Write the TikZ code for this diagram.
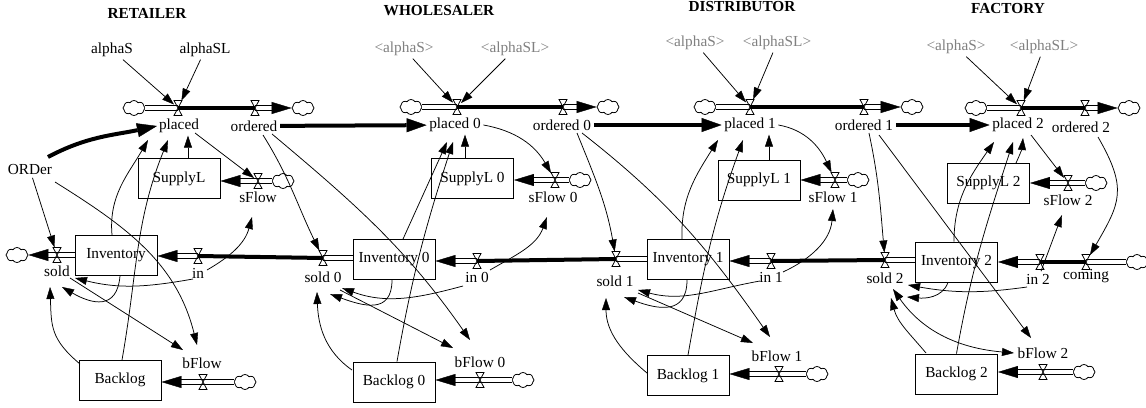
\documentclass[tikz,border=0pt]{standalone}
\usepackage{fontspec}
\setmainfont{Liberation Serif}
\usetikzlibrary{arrows.meta,shapes.symbols}
\definecolor{ghostgray}{RGB}{128,128,128}
% hourglass valve drawn inside a named valve node
\newcommand{\valveglyph}[1]{\draw[line width=0.8pt] (#1.north west) -- (#1.north east) -- (#1.south west) -- (#1.south east) -- cycle;}
% double pipe ending in a filled head
\newcommand{\flowin}[2]{\draw[pipe, shorten >=14pt] #1 -- #2; \draw[pipehead] #1 -- #2;}
\begin{document}
\begin{tikzpicture}[x=1pt, y=1pt,
  font=\fontsize{15.3pt}{18pt}\selectfont,
  heading/.style={font=\fontsize{15.3pt}{18pt}\selectfont\bfseries},
  var/.style={inner sep=2.5pt},
  ghost/.style={var, text=ghostgray},
  stock/.style={draw, line width=0.9pt, minimum width=82pt, minimum height=40pt, inner sep=0pt},
  valve/.style={minimum width=8pt, minimum height=15pt, inner sep=0pt, outer sep=0pt},
  cloudy/.style={cloud, draw, fill=white, cloud puffs=8, cloud puff arc=115, aspect=1.5,
                 minimum width=22pt, minimum height=15pt, inner sep=0pt, line width=0.8pt},
  pipe/.style={double distance=3.4pt, line width=0.9pt},
  pipehead/.style={white, line width=0.2pt, -{Triangle[color=black, fill=black, length=20pt, width=12pt, line width=0.4pt]}},
  belt/.style={line width=4pt},
  link/.style={line width=0.75pt, -{Triangle[length=12pt, width=8pt, line width=0.4pt]}},
  bilink/.style={line width=0.75pt, {Triangle[length=12pt, width=8pt, line width=0.4pt]}-{Triangle[length=12pt, width=8pt, line width=0.4pt]}},
  biglink/.style={line width=4pt, -{Triangle[length=20pt, width=14pt, line width=0.4pt]}}
]
\useasboundingbox (0,0) rectangle (1146,-407);

% ================= RETAILER =================
\node[heading] (tR) at (147,-13) {RETAILER};
\node[var] (aS) at (112,-50) {alphaS};
\node[var] (aSL) at (205,-50) {alphaSL};
\node[cloudy] (cPl) at (134,-108) {};
\node[valve] (vPl) at (178,-108) {};
\node[var] (lPl) at (179,-126) {placed};
\node[valve] (vOr) at (255,-108) {};
\node[var] (lOr) at (254,-126) {ordered};
\node[cloudy] (cOr) at (303,-108) {};
\node[var] (ord) at (30,-170) {ORDer};
\node[stock] (sup) at (179,-178.5) {SupplyL};
\node[valve] (vSf) at (258,-181) {};
\node[var] (lSf) at (258,-197) {sFlow};
\node[cloudy] (cSf) at (283,-181) {};
\node[stock] (inv) at (116,-255) {Inventory};
\node[valve] (vSo) at (57,-255) {};
\node[var] (lSo) at (57,-271) {sold};
\node[cloudy] (cSo) at (17,-255) {};
\node[valve] (vIn) at (198,-256) {};
\node[var] (lIn) at (198,-273) {in};
\node[stock] (bl) at (120,-380) {Backlog};
\node[valve] (vBf) at (203,-382) {};
\node[var] (lBf) at (202,-363) {bFlow};
\node[cloudy] (cBf) at (245,-382) {};

% ================= WHOLESALER =================
\node[heading] (tW) at (439,-11) {WHOLESALER};
\node[ghost] (aS0) at (404,-49) {<alphaS>};
\node[ghost] (aSL0) at (515,-49) {<alphaSL>};
\node[cloudy] (cPl0) at (411,-107) {};
\node[valve] (vPl0) at (457,-107) {};
\node[var] (lPl0) at (455,-125) {placed 0};
\node[valve] (vOr0) at (563,-107) {};
\node[var] (lOr0) at (562,-125) {ordered 0};
\node[cloudy] (cOr0) at (608,-107) {};
\node[stock] (sup0) at (472.5,-178.5) {SupplyL 0};
\node[valve] (vSf0) at (555,-180) {};
\node[var] (lSf0) at (553,-197) {sFlow 0};
\node[cloudy] (cSf0) at (580,-180) {};
\node[stock] (inv0) at (394,-259.5) {Inventory 0};
\node[valve] (vSo0) at (323,-258) {};
\node[var] (lSo0) at (323,-277) {sold 0};
\node[valve] (vIn0) at (477,-261) {};
\node[var] (lIn0) at (477,-277) {in 0};
\node[stock] (bl0) at (394,-382) {Backlog 0};
\node[valve] (vBf0) at (480,-380) {};
\node[var] (lBf0) at (480,-362) {bFlow 0};
\node[cloudy] (cBf0) at (523,-380) {};

% ================= DISTRIBUTOR =================
\node[heading] (tD) at (742,-7) {DISTRIBUTOR};
\node[ghost] (aS1) at (695,-43) {<alphaS>};
\node[ghost] (aSL1) at (777,-43) {<alphaSL>};
\node[cloudy] (cPl1) at (705,-107) {};
\node[valve] (vPl1) at (750,-107) {};
\node[var] (lPl1) at (750,-125) {placed 1};
\node[valve] (vOr1) at (864,-107) {};
\node[var] (lOr1) at (864,-125) {ordered 1};
\node[cloudy] (cOr1) at (912,-107) {};
\node[stock] (sup1) at (759,-180) {SupplyL 1};
\node[valve] (vSf1) at (835,-180) {};
\node[var] (lSf1) at (833,-197) {sFlow 1};
\node[cloudy] (cSf1) at (858,-180) {};
\node[stock] (inv1) at (688,-259.5) {Inventory 1};
\node[valve] (vSo1) at (616,-259) {};
\node[var] (lSo1) at (615,-281) {sold 1};
\node[valve] (vIn1) at (771,-261) {};
\node[var] (lIn1) at (771,-277) {in 1};
\node[stock] (bl1) at (688,-375.5) {Backlog 1};
\node[valve] (vBf1) at (779,-374) {};
\node[var] (lBf1) at (777,-356) {bFlow 1};
\node[cloudy] (cBf1) at (817,-374) {};

% ================= FACTORY =================
\node[heading] (tF) at (1008,-9) {FACTORY};
\node[ghost] (aS2) at (956,-47) {<alphaS>};
\node[ghost] (aSL2) at (1044,-47) {<alphaSL>};
\node[cloudy] (cPl2) at (976,-108) {};
\node[valve] (vPl2) at (1021,-108) {};
\node[var] (lPl2) at (1018,-125) {placed 2};
\node[valve] (vOr2) at (1085,-108) {};
\node[var] (lOr2) at (1081,-127) {ordered 2};
\node[cloudy] (cOr2) at (1129,-108) {};
\node[stock] (sup2) at (988.5,-183) {SupplyL 2};
\node[valve] (vSf2) at (1068,-183) {};
\node[var] (lSf2) at (1068,-200) {sFlow 2};
\node[cloudy] (cSf2) at (1096,-183) {};
\node[stock] (inv2) at (956.5,-262) {Inventory 2};
\node[valve] (vSo2) at (885,-260) {};
\node[var] (lSo2) at (885,-278) {sold 2};
\node[valve] (vIn2) at (1040,-262) {};
\node[var] (lIn2) at (1038,-279) {in 2};
\node[valve] (vCo) at (1086,-262) {};
\node[var] (lCo) at (1086,-276) {coming};
\node[cloudy] (cCo) at (1137,-262) {};
\node[stock] (bl2) at (956.5,-374) {Backlog 2};
\node[valve] (vBf2) at (1043,-372) {};
\node[var] (lBf2) at (1043,-353) {bFlow 2};
\node[cloudy] (cBf2) at (1084,-372) {};

% ---------- pipes and conveyor lines ----------
% order chains along the top
\draw[pipe] (cPl) -- (vPl.center);
\draw[belt] (vPl.center) -- (vOr.center);
\flowin{(vOr.center)}{(cOr)}
\draw[pipe] (cPl0) -- (vPl0.center);
\draw[belt] (vPl0.center) -- (vOr0.center);
\flowin{(vOr0.center)}{(cOr0)}
\draw[pipe] (cPl1) -- (vPl1.center);
\draw[belt] (vPl1.center) -- (vOr1.center);
\flowin{(vOr1.center)}{(cOr1)}
\draw[pipe] (cPl2) -- (vPl2.center);
\draw[belt] (vPl2.center) -- (vOr2.center);
\flowin{(vOr2.center)}{(cOr2)}

% supply lines
\draw[pipe] (cSf) -- (vSf.center);
\flowin{(vSf.center)}{(vSf.center -| sup.east)}
\draw[pipe] (cSf0) -- (vSf0.center);
\flowin{(vSf0.center)}{(vSf0.center -| sup0.east)}
\draw[pipe] (cSf1) -- (vSf1.center);
\flowin{(vSf1.center)}{(vSf1.center -| sup1.east)}
\draw[pipe] (cSf2) -- (vSf2.center);
\flowin{(vSf2.center)}{(vSf2.center -| sup2.east)}

% goods chain along the middle
\draw[pipe] (vSo.center) -- (vSo.center -| inv.west);
\flowin{(vSo.center)}{(cSo)}
\flowin{(vIn.center)}{(vIn.center -| inv.east)}
\draw[belt] (vIn.center) -- (vSo0.center);
\draw[pipe] (vSo0.center) -- (vSo0.center -| inv0.west);
\flowin{(vIn0.center)}{(vIn0.center -| inv0.east)}
\draw[belt] (vIn0.center) -- (vSo1.center);
\draw[pipe] (vSo1.center) -- (vSo1.center -| inv1.west);
\flowin{(vIn1.center)}{(vIn1.center -| inv1.east)}
\draw[belt] (vIn1.center) -- (vSo2.center);
\draw[pipe] (vSo2.center) -- (vSo2.center -| inv2.west);
\flowin{(vIn2.center)}{(vIn2.center -| inv2.east)}
\draw[belt] (vIn2.center) -- (vCo.center);
\draw[pipe] (vCo.center) -- (cCo);

% backlog lines
\draw[pipe] (cBf) -- (vBf.center);
\flowin{(vBf.center)}{(vBf.center -| bl.east)}
\draw[pipe] (cBf0) -- (vBf0.center);
\flowin{(vBf0.center)}{(vBf0.center -| bl0.east)}
\draw[pipe] (cBf1) -- (vBf1.center);
\flowin{(vBf1.center)}{(vBf1.center -| bl1.east)}
\draw[pipe] (cBf2) -- (vBf2.center);
\flowin{(vBf2.center)}{(vBf2.center -| bl2.east)}

% ---------- information links: retailer ----------
\draw[link] (aS) -- (vPl);
\draw[link] (aSL) -- (vPl);
\draw[biglink] ([shift={(18,13)}]ord.center) to[out=28,in=-168] ([shift={(-22,0)}]lPl.center);
\draw[link] (ord) -- (vSo);
\draw[link] ([shift={(25,-12)}]ord.center) to[out=-32,in=104] ([shift={(-5,18)}]lBf.center);
\draw[link] ([shift={(-4,20)}]inv.center) to[out=95,in=-120] ([shift={(-31,-14)}]lPl.center);
\draw[link] ([shift={(2,20)}]bl.center) to[out=80,in=-112] ([shift={(-11,-14)}]lPl.center);
\draw[link] ([xshift=9pt]sup.north) -- ([xshift=9pt]lPl.south);
\draw[link] ([shift={(16,-7)}]lPl.center) -- (vSf);
\draw[link] ([shift={(9,3)}]lIn.center) to[out=30,in=-105] ([shift={(-6,-20)}]lSf.center);
\draw[link] ([shift={(-5,-6)}]lIn.center) to[out=-170,in=-14] ([shift={(18,-7)}]lSo.center);
\draw[link] ([shift={(4,-21)}]inv.center) to[out=-95,in=-30,looseness=1.5] ([shift={(5,-16)}]lSo.center);
\draw[link] ([shift={(-40,16)}]bl.center) to[out=140,in=-88,looseness=1.2] ([shift={(-7,-16)}]lSo.center);
\draw[link] ([shift={(13,-7)}]lSo.center) -- ([shift={(-19,13)}]lBf.center);
\draw[link] ([shift={(9,-9)}]lOr.center) to[out=-58,in=116] (vSo0);
\draw[link] ([shift={(18,-8)}]lOr.center) to[out=-40,in=125] ([shift={(-10,22)}]lBf0.center);

% ---------- information links: wholesaler ----------
\draw[link] (aS0) -- (vPl0);
\draw[link] (aSL0) -- (vPl0);
\draw[biglink] (lOr) -- (lPl0);
\draw[link] ([xshift=-7.5pt]sup0.north) -- ([xshift=10pt]lPl0.south);
\draw[link] (lPl0.east) to[out=-10,in=120] (vSf0);
\draw[link] ([xshift=9pt]inv0.north) -- ([shift={(-8,-17)}]lPl0.center);
\draw[link] ([xshift=3pt]bl0.north) to[out=80,in=-108] ([shift={(-2,-17)}]lPl0.center);
\draw[link] ([xshift=-2pt]inv0.south) to[out=-90,in=-20,looseness=1.4] ([shift={(7,-17)}]lSo0.center);
\draw[link] ([shift={(-14,-9)}]lIn0.center) to[out=-165,in=-20] ([shift={(19,-11)}]lSo0.center);
\draw[link] ([shift={(17,-13)}]lSo0.center) -- ([shift={(-27,14)}]lBf0.center);
\draw[link] ([shift={(-42,12)}]bl0.center) to[out=145,in=-88] ([shift={(-6,-15)}]lSo0.center);
\draw[link] ([shift={(13,7)}]lIn0.center) to[out=30,in=-110] ([shift={(-6,-20)}]lSf0.center);
\draw[link] ([shift={(15,-8)}]lOr0.center) to[out=-68,in=100] (vSo1);
\draw[link] ([shift={(20,-8)}]lOr0.center) to[out=-38,in=125] ([shift={(-7,19)}]lBf1.center);

% ---------- information links: distributor ----------
\draw[link] (aS1) -- (vPl1);
\draw[link] (aSL1) -- (vPl1);
\draw[biglink] (lOr0) -- (lPl1);
\draw[link] ([xshift=10pt]sup1.north) -- ([xshift=19pt]lPl1.south);
\draw[link] (lPl1.east) to[out=-10,in=115] (vSf1);
\draw[link] ([xshift=-6pt]inv1.north) to[out=92,in=-122] ([shift={(-32,-15)}]lPl1.center);
\draw[link] (bl1.north) to[out=80,in=-110] ([shift={(-7,-15)}]lPl1.center);
\draw[link] ([xshift=-1pt]inv1.south) to[out=-90,in=-20,looseness=1.4] ([shift={(9,-16)}]lSo1.center);
\draw[link] ([shift={(-11,-4)}]lIn1.center) to[out=-170,in=-15] ([shift={(23,-9)}]lSo1.center);
\draw[link] ([shift={(23,-12)}]lSo1.center) -- ([shift={(-24,13)}]lBf1.center);
\draw[link] ([shift={(-41,2.5)}]bl1.center) to[out=140,in=-90] ([shift={(-9,-17)}]lSo1.center);
\draw[link] ([shift={(12,5)}]lIn1.center) to[out=25,in=-95] ([shift={(0,-12)}]lSf1.center);
\draw[link] ([shift={(5,-8)}]lOr1.center) to[out=-78,in=95] (vSo2);
\draw[link] ([shift={(15,-10)}]lOr1.center) -- ([shift={(-12,15)}]lBf2.center);

% ---------- information links: factory ----------
\draw[link] (aS2) -- (vPl2);
\draw[link] (aSL2) -- (vPl2);
\draw[biglink] (lOr1) -- (lPl2);
\draw[link] ([shift={(27.5,20)}]sup2.center) to[out=65,in=-95] ([shift={(5,-13)}]lPl2.center);
\draw[link] ([shift={(13,-10)}]lPl2.center) -- (vSf2);
\draw[link] ([xshift=-2.5pt]inv2.north) to[out=90,in=-125] ([shift={(-24,-17)}]lPl2.center);
\draw[link] (bl2.north) to[out=80,in=-108] ([shift={(-5,-17)}]lPl2.center);
\draw[link] ([shift={(17,-10)}]lOr2.center) to[out=-60,in=60,looseness=1.3] (vCo);
\draw[link] ([xshift=3pt]lIn2.north) -- ([shift={(-6,-15)}]lSf2.center);
\draw[link] ([xshift=-8.5pt]inv2.south) to[out=-110,in=-5] ([shift={(22,-19)}]lSo2.center);
\draw[link] ([shift={(-11,-8)}]lIn2.center) to[out=-172,in=-10] ([shift={(23,-7)}]lSo2.center);
\draw[bilink] ([shift={(8,-11)}]lSo2.center) to[out=-55,in=175] ([shift={(-29,0)}]lBf2.center);
\draw[link] ([shift={(-30.5,21)}]bl2.center) to[out=130,in=-75] ([shift={(6,-20)}]lSo2.center);

% ---------- valves on top ----------
\foreach \v in {vPl,vOr,vSf,vSo,vIn,vBf,vPl0,vOr0,vSf0,vSo0,vIn0,vBf0,
                vPl1,vOr1,vSf1,vSo1,vIn1,vBf1,vPl2,vOr2,vSf2,vSo2,vIn2,vCo,vBf2}
  {\valveglyph{\v}}
\end{tikzpicture}
\end{document}
